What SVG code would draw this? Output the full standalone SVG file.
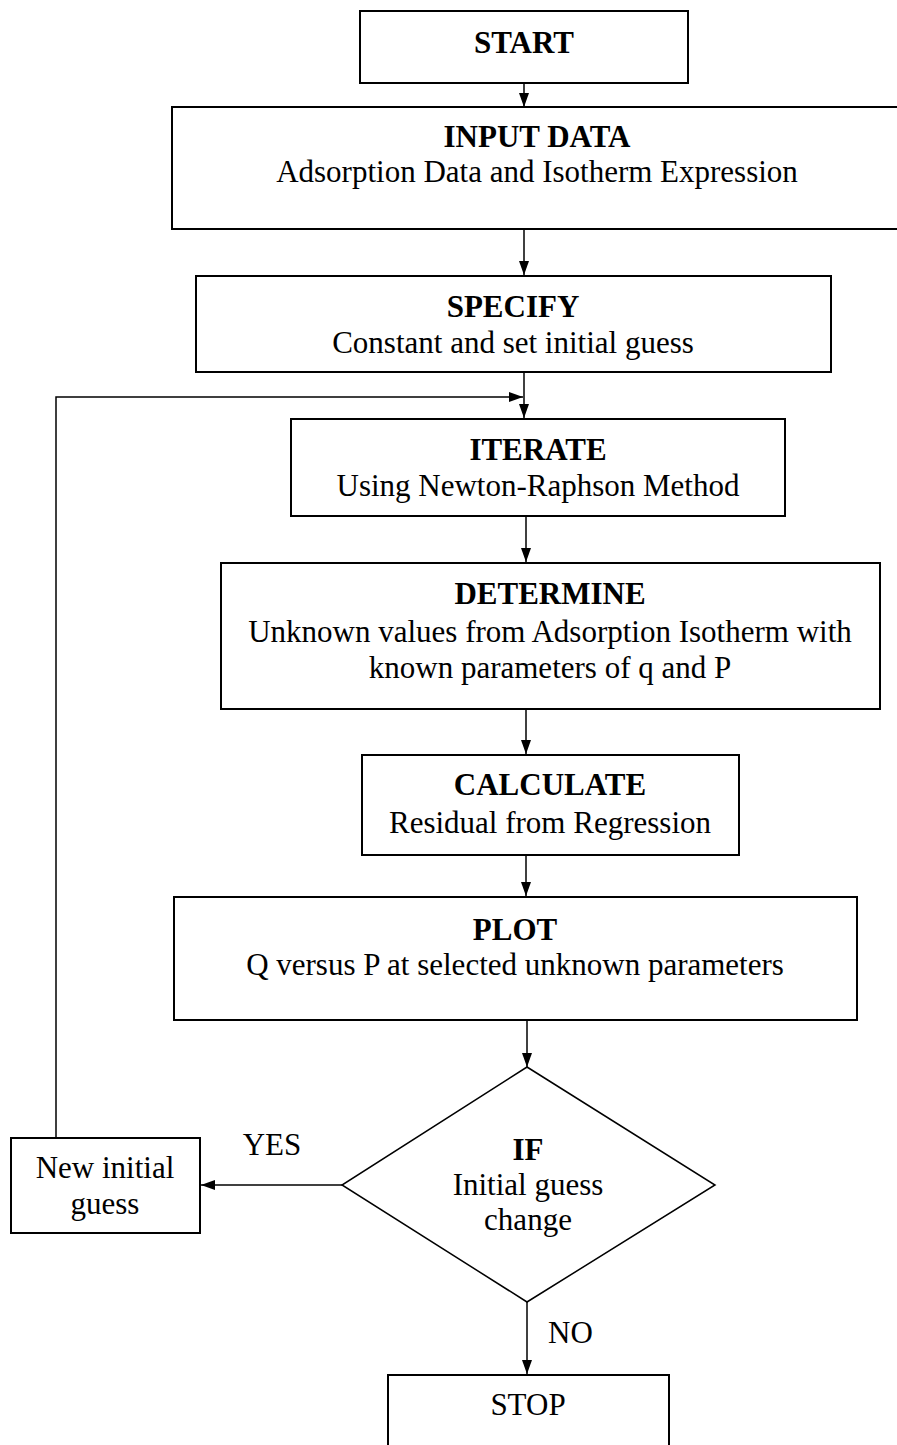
<svg xmlns="http://www.w3.org/2000/svg" width="897" height="1445" viewBox="0 0 897 1445">
<style>
.box{fill:#fff;stroke:#000;stroke-width:2}
.dia{fill:#fff;stroke:#000;stroke-width:1.5}
.c{fill:none;stroke:#000;stroke-width:1.5}
text{font-family:"Liberation Serif","Times New Roman",serif;font-size:31px;fill:#000;text-anchor:middle}
.b{font-weight:bold}
.l{text-anchor:start}
</style>
<defs>
<marker id="ah" markerUnits="userSpaceOnUse" markerWidth="16" markerHeight="12" refX="14" refY="5" orient="auto">
<path d="M0,0 L14,5 L0,10 Z" fill="#000"/>
</marker>
</defs>
<rect width="897" height="1445" fill="#fff"/>
<g id="connectors">
<line class="c" x1="524" y1="83" x2="524" y2="107" marker-end="url(#ah)"/>
<line class="c" x1="524" y1="229" x2="524" y2="275" marker-end="url(#ah)"/>
<line class="c" x1="524" y1="372" x2="524" y2="418" marker-end="url(#ah)"/>
<polyline class="c" points="56,1138 56,397 523,397" marker-end="url(#ah)"/>
<line class="c" x1="526" y1="516" x2="526" y2="562" marker-end="url(#ah)"/>
<line class="c" x1="526" y1="709" x2="526" y2="754" marker-end="url(#ah)"/>
<line class="c" x1="526" y1="855" x2="526" y2="896" marker-end="url(#ah)"/>
<line class="c" x1="527" y1="1020" x2="527" y2="1067" marker-end="url(#ah)"/>
<line class="c" x1="342" y1="1185" x2="201" y2="1185" marker-end="url(#ah)"/>
<line class="c" x1="527" y1="1302" x2="527" y2="1374" marker-end="url(#ah)"/>
<text x="272" y="1155">YES</text>
<text class="l" x="548" y="1343">NO</text>
</g>
<g id="start">
<rect class="box" x="360" y="11" width="328" height="72"/>
<text class="b" x="524" y="53">START</text>
</g>
<g id="input">
<rect class="box" x="172" y="107" width="730" height="122"/>
<text class="b" x="537" y="147">INPUT DATA</text>
<text x="537" y="182">Adsorption Data and Isotherm Expression</text>
</g>
<g id="specify">
<rect class="box" x="196" y="276" width="635" height="96"/>
<text class="b" x="513" y="317">SPECIFY</text>
<text x="513" y="353">Constant and set initial guess</text>
</g>
<g id="iterate">
<rect class="box" x="291" y="419" width="494" height="97"/>
<text class="b" x="538" y="460">ITERATE</text>
<text x="538" y="496">Using Newton-Raphson Method</text>
</g>
<g id="determine">
<rect class="box" x="221" y="563" width="659" height="146"/>
<text class="b" x="550" y="604">DETERMINE</text>
<text x="550" y="642">Unknown values from Adsorption Isotherm with</text>
<text x="550" y="678">known parameters of q and P</text>
</g>
<g id="calculate">
<rect class="box" x="362" y="755" width="377" height="100"/>
<text class="b" x="550" y="795">CALCULATE</text>
<text x="550" y="833">Residual from Regression</text>
</g>
<g id="plot">
<rect class="box" x="174" y="897" width="683" height="123"/>
<text class="b" x="515" y="940">PLOT</text>
<text x="515" y="975">Q versus P at selected unknown parameters</text>
</g>
<g id="decision">
<polygon class="dia" points="527,1067 715,1185 527,1302 342,1185"/>
<text class="b" x="528" y="1160">IF</text>
<text x="528" y="1195">Initial guess</text>
<text x="528" y="1230">change</text>
</g>
<g id="newguess">
<rect class="box" x="11" y="1138" width="189" height="95"/>
<text x="105" y="1178">New initial</text>
<text x="105" y="1214">guess</text>
</g>
<g id="stop">
<rect class="box" x="388" y="1375" width="281" height="80"/>
<text x="528" y="1415">STOP</text>
</g>
</svg>
